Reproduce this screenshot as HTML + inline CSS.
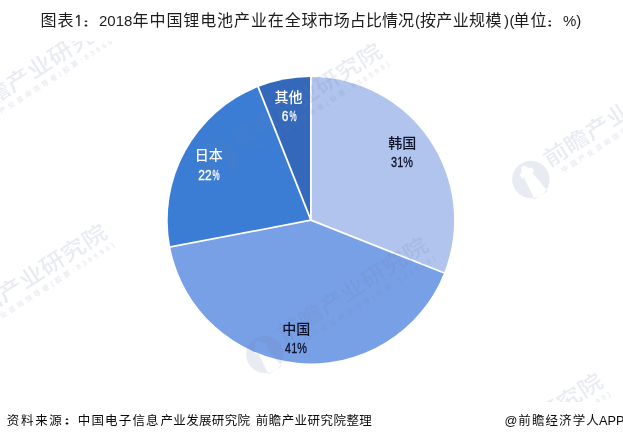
<!DOCTYPE html>
<html lang="zh-CN"><head><meta charset="utf-8"><title>图表1：2018年中国锂电池产业在全球市场占比情况</title>
<style>
html,body{margin:0;padding:0;background:#fff;}
body{width:623px;height:441px;position:relative;overflow:hidden;font-family:"Liberation Sans","Noto Sans CJK SC",sans-serif;}
.chart{position:absolute;left:0;top:0;width:623px;height:441px}
.t,.f{position:absolute;white-space:nowrap;line-height:20px;height:20px}
.t{color:#1c1c1c;font-weight:400}
.f{color:#0a0a0a;font-weight:400}
.n{font-family:"NanumGothic","Liberation Sans",sans-serif;-webkit-text-stroke:0.4px currentColor}
.c{font-weight:900;font-family:"Noto Sans CJK SC",sans-serif;transform:scaleY(0.6);transform-origin:0 0}
.ln,.lp{position:absolute;width:60px;height:20px;line-height:20px;text-align:center;white-space:nowrap}
.ln{font-weight:500}
.lp{font-weight:400;-webkit-text-stroke:0.3px currentColor}
.wmclip{position:absolute;left:0;top:40.5px;width:623px;height:361.5px;overflow:hidden;pointer-events:none}
.wmin{position:absolute;left:0;top:-40.5px;width:623px;height:441px}
.wm{position:absolute;width:0;height:0;transform-origin:0 0;opacity:0.15}
.wm span{position:absolute;white-space:nowrap;line-height:1}
.wt{font-weight:500}
.ws{font-size:7px;letter-spacing:3px;font-weight:700}
.wlogo{position:absolute}
</style></head><body>
<svg class="chart" width="623" height="441" viewBox="0 0 623 441">
<path d="M310.9 220.2L310.90 77.00A143.2 143.2 0 0 1 444.04 272.92Z" fill="#b1c4ee"/>
<path d="M310.9 220.2L444.04 272.92A143.2 143.2 0 0 1 170.24 247.03Z" fill="#78a0e6"/>
<path d="M310.9 220.2L170.24 247.03A143.2 143.2 0 0 1 258.18 87.06Z" fill="#3b7dd5"/>
<path d="M310.9 220.2L258.18 87.06A143.2 143.2 0 0 1 310.90 77.00Z" fill="#3468ba"/>
<line x1="310.9" y1="220.2" x2="310.90" y2="76.00" stroke="#fff" stroke-width="1.8" stroke-linecap="butt"/>
<line x1="310.9" y1="220.2" x2="444.97" y2="273.28" stroke="#fff" stroke-width="1.8" stroke-linecap="butt"/>
<line x1="310.9" y1="220.2" x2="169.25" y2="247.22" stroke="#fff" stroke-width="1.8" stroke-linecap="butt"/>
<line x1="310.9" y1="220.2" x2="257.82" y2="86.13" stroke="#fff" stroke-width="1.8" stroke-linecap="butt"/>
</svg>
<div class="wmclip"><div class="wmin">
<div class="wm" style="left:-20.6px;top:106.8px;transform:rotate(-32.5deg)">
<svg class="wlogo" width="38" height="38" viewBox="0 0 38 38" style="left:-55.5px;top:-13.2px"><path fill-rule="evenodd" fill="#6e7fa6" d="M19 0.3A18.7 18.7 0 1 0 19 37.7A18.7 18.7 0 1 0 19 0.3Z M11.2 38 L14.2 14.5 L11.8 13.6 L11.8 9.2 L14.6 8.4 L17.2 3.6 L20.8 3.6 L23.4 8.4 L26.2 9.2 L26.2 13.6 L23.8 14.5 L26.8 38 Z"/></svg>
<span class="wt" style="left:-14.0px;top:-10.6px;font-size:21.5px;letter-spacing:0.07px;color:#6e7fa6;transform:scaleX(1.15);transform-origin:0 50%">前瞻产业研究院</span>
<span class="ws" style="left:-5.0px;top:11.5px;color:#6e7fa6">中国产业咨询领导者(股票:839599)</span>
</div><div class="wm" style="left:245.5px;top:136.2px;transform:rotate(-32.5deg)">
<svg class="wlogo" width="38" height="38" viewBox="0 0 38 38" style="left:-55.5px;top:-13.2px"><path fill-rule="evenodd" fill="#6e7fa6" d="M19 0.3A18.7 18.7 0 1 0 19 37.7A18.7 18.7 0 1 0 19 0.3Z M11.2 38 L14.2 14.5 L11.8 13.6 L11.8 9.2 L14.6 8.4 L17.2 3.6 L20.8 3.6 L23.4 8.4 L26.2 9.2 L26.2 13.6 L23.8 14.5 L26.8 38 Z"/></svg>
<span class="wt" style="left:-14.0px;top:-10.6px;font-size:21.5px;letter-spacing:0.07px;color:#6e7fa6;transform:scaleX(1.15);transform-origin:0 50%">前瞻产业研究院</span>
<span class="ws" style="left:-5.0px;top:11.5px;color:#6e7fa6">中国产业咨询领导者(股票:839599)</span>
</div><div class="wm" style="left:557.9px;top:154.5px;transform:rotate(-32.5deg)">
<svg class="wlogo" width="38" height="38" viewBox="0 0 38 38" style="left:-55.5px;top:-13.2px"><path fill-rule="evenodd" fill="#6e7fa6" d="M19 0.3A18.7 18.7 0 1 0 19 37.7A18.7 18.7 0 1 0 19 0.3Z M11.2 38 L14.2 14.5 L11.8 13.6 L11.8 9.2 L14.6 8.4 L17.2 3.6 L20.8 3.6 L23.4 8.4 L26.2 9.2 L26.2 13.6 L23.8 14.5 L26.8 38 Z"/></svg>
<span class="wt" style="left:-14.0px;top:-10.6px;font-size:21.5px;letter-spacing:0.07px;color:#6e7fa6;transform:scaleX(1.15);transform-origin:0 50%">前瞻产业研究院</span>
<span class="ws" style="left:-5.0px;top:11.5px;color:#6e7fa6">中国产业咨询领导者(股票:839599)</span>
</div><div class="wm" style="left:-28.8px;top:316.9px;transform:rotate(-32.5deg)">
<svg class="wlogo" width="38" height="38" viewBox="0 0 38 38" style="left:-55.5px;top:-13.2px"><path fill-rule="evenodd" fill="#6e7fa6" d="M19 0.3A18.7 18.7 0 1 0 19 37.7A18.7 18.7 0 1 0 19 0.3Z M11.2 38 L14.2 14.5 L11.8 13.6 L11.8 9.2 L14.6 8.4 L17.2 3.6 L20.8 3.6 L23.4 8.4 L26.2 9.2 L26.2 13.6 L23.8 14.5 L26.8 38 Z"/></svg>
<span class="wt" style="left:-14.0px;top:-10.6px;font-size:21.5px;letter-spacing:0.07px;color:#6e7fa6;transform:scaleX(1.15);transform-origin:0 50%">前瞻产业研究院</span>
<span class="ws" style="left:-5.0px;top:11.5px;color:#6e7fa6">中国产业咨询领导者(股票:839599)</span>
</div><div class="wm" style="left:292.3px;top:329.7px;transform:rotate(-32.5deg)">
<svg class="wlogo" width="38" height="38" viewBox="0 0 38 38" style="left:-55.5px;top:-13.2px"><path fill-rule="evenodd" fill="#6e7fa6" d="M19 0.3A18.7 18.7 0 1 0 19 37.7A18.7 18.7 0 1 0 19 0.3Z M11.2 38 L14.2 14.5 L11.8 13.6 L11.8 9.2 L14.6 8.4 L17.2 3.6 L20.8 3.6 L23.4 8.4 L26.2 9.2 L26.2 13.6 L23.8 14.5 L26.8 38 Z"/></svg>
<span class="wt" style="left:-14.0px;top:-10.6px;font-size:21.5px;letter-spacing:0.07px;color:#6e7fa6;transform:scaleX(1.15);transform-origin:0 50%">前瞻产业研究院</span>
<span class="ws" style="left:-5.0px;top:11.5px;color:#6e7fa6">中国产业咨询领导者(股票:839599)</span>
</div><div class="wm" style="left:467.0px;top:465.8px;transform:rotate(-32.5deg)">
<svg class="wlogo" width="38" height="38" viewBox="0 0 38 38" style="left:-55.5px;top:-13.2px"><path fill-rule="evenodd" fill="#6e7fa6" d="M19 0.3A18.7 18.7 0 1 0 19 37.7A18.7 18.7 0 1 0 19 0.3Z M11.2 38 L14.2 14.5 L11.8 13.6 L11.8 9.2 L14.6 8.4 L17.2 3.6 L20.8 3.6 L23.4 8.4 L26.2 9.2 L26.2 13.6 L23.8 14.5 L26.8 38 Z"/></svg>
<span class="wt" style="left:-14.0px;top:-10.6px;font-size:21.5px;letter-spacing:0.07px;color:#6e7fa6;transform:scaleX(1.15);transform-origin:0 50%">前瞻产业研究院</span>
<span class="ws" style="left:-5.0px;top:11.5px;color:#6e7fa6">中国产业咨询领导者(股票:839599)</span>
</div>
</div></div>
<div class="title"><span class="t" style="left:40.40px;top:11.00px;font-size:16px;letter-spacing:1.05px;">图表</span><span class="t n" style="left:73.90px;top:10.90px;font-size:14.5px;letter-spacing:0.00px;">1</span><span class="t c" style="left:82.80px;top:17.40px;font-size:13px;letter-spacing:0.00px;">：</span><span class="t" style="left:99.00px;top:10.60px;font-size:15px;letter-spacing:0.00px;">2018</span><span class="t" style="left:132.60px;top:11.00px;font-size:16px;letter-spacing:0.90px;">年中国锂电池产业在全球</span><span class="t" style="left:317.60px;top:11.00px;font-size:16px;letter-spacing:0.10px;">市场占比情况</span><span class="t" style="left:415.00px;top:10.60px;font-size:15px;letter-spacing:0.00px;">(</span><span class="t" style="left:420.00px;top:11.00px;font-size:16px;letter-spacing:0.35px;">按产业规模</span><span class="t" style="left:504.00px;top:10.60px;font-size:15px;letter-spacing:0.50px;">)(</span><span class="t" style="left:513.60px;top:11.00px;font-size:16px;letter-spacing:1.00px;">单位</span><span class="t c" style="left:546.50px;top:17.40px;font-size:13px;letter-spacing:0.00px;">：</span><span class="t" style="left:563.00px;top:10.60px;font-size:15px;letter-spacing:0.00px;">%)</span></div>
<div class="labels"><span class="ln" style="left:372.30px;top:132.65px;color:#0d1128;font-size:14px">韩国</span><span class="lp" style="left:372.40px;top:152.40px;color:#0d1128;font-size:14.5px;transform:scaleX(0.75)">31%</span><span class="ln" style="left:266.20px;top:319.00px;color:#0d1128;font-size:14px">中国</span><span class="lp" style="left:266.30px;top:338.00px;color:#0d1128;font-size:14.5px;transform:scaleX(0.75)">41%</span><span class="ln" style="left:178.80px;top:145.20px;color:#fff;font-size:14px">日本</span><span class="lp" style="left:175.20px;top:165.10px;color:#fff;font-size:14.5px;transform:scaleX(0.83)">22</span><span class="lp" style="left:186.00px;top:165.10px;color:#fff;font-size:14.5px;transform:scaleX(0.55)">%</span><span class="ln" style="left:258.60px;top:86.50px;color:#fff;font-size:14px">其他</span><span class="lp" style="left:255.40px;top:105.90px;color:#fff;font-size:14.5px;transform:scaleX(0.83)">6</span><span class="lp" style="left:262.70px;top:105.90px;color:#fff;font-size:14.5px;transform:scaleX(0.55)">%</span></div>
<div class="footer"><span class="f" style="left:6.75px;top:411.00px;font-size:12.5px;letter-spacing:1.70px;">资料来源</span><span class="f c" style="left:63.70px;top:415.10px;font-size:13px;letter-spacing:0.00px;">：</span><span class="f" style="left:77.75px;top:411.00px;font-size:12.5px;letter-spacing:1.17px;">中国电子信息</span><span class="f" style="left:160.45px;top:411.00px;font-size:12.5px;letter-spacing:0.35px;">产业发展研究院</span><span class="f" style="left:255.75px;top:411.00px;font-size:12.5px;letter-spacing:0.45px;">前瞻产业研究院整理</span><span class="f" style="left:504.60px;top:411.00px;font-size:12.7px;letter-spacing:0.00px;">@</span><span class="f" style="left:518.35px;top:411.00px;font-size:12.5px;letter-spacing:1.08px;">前瞻经济学人</span><span class="f" style="left:599.00px;top:411.00px;font-size:12.7px;letter-spacing:0.00px;">APP</span></div>
</body></html>
